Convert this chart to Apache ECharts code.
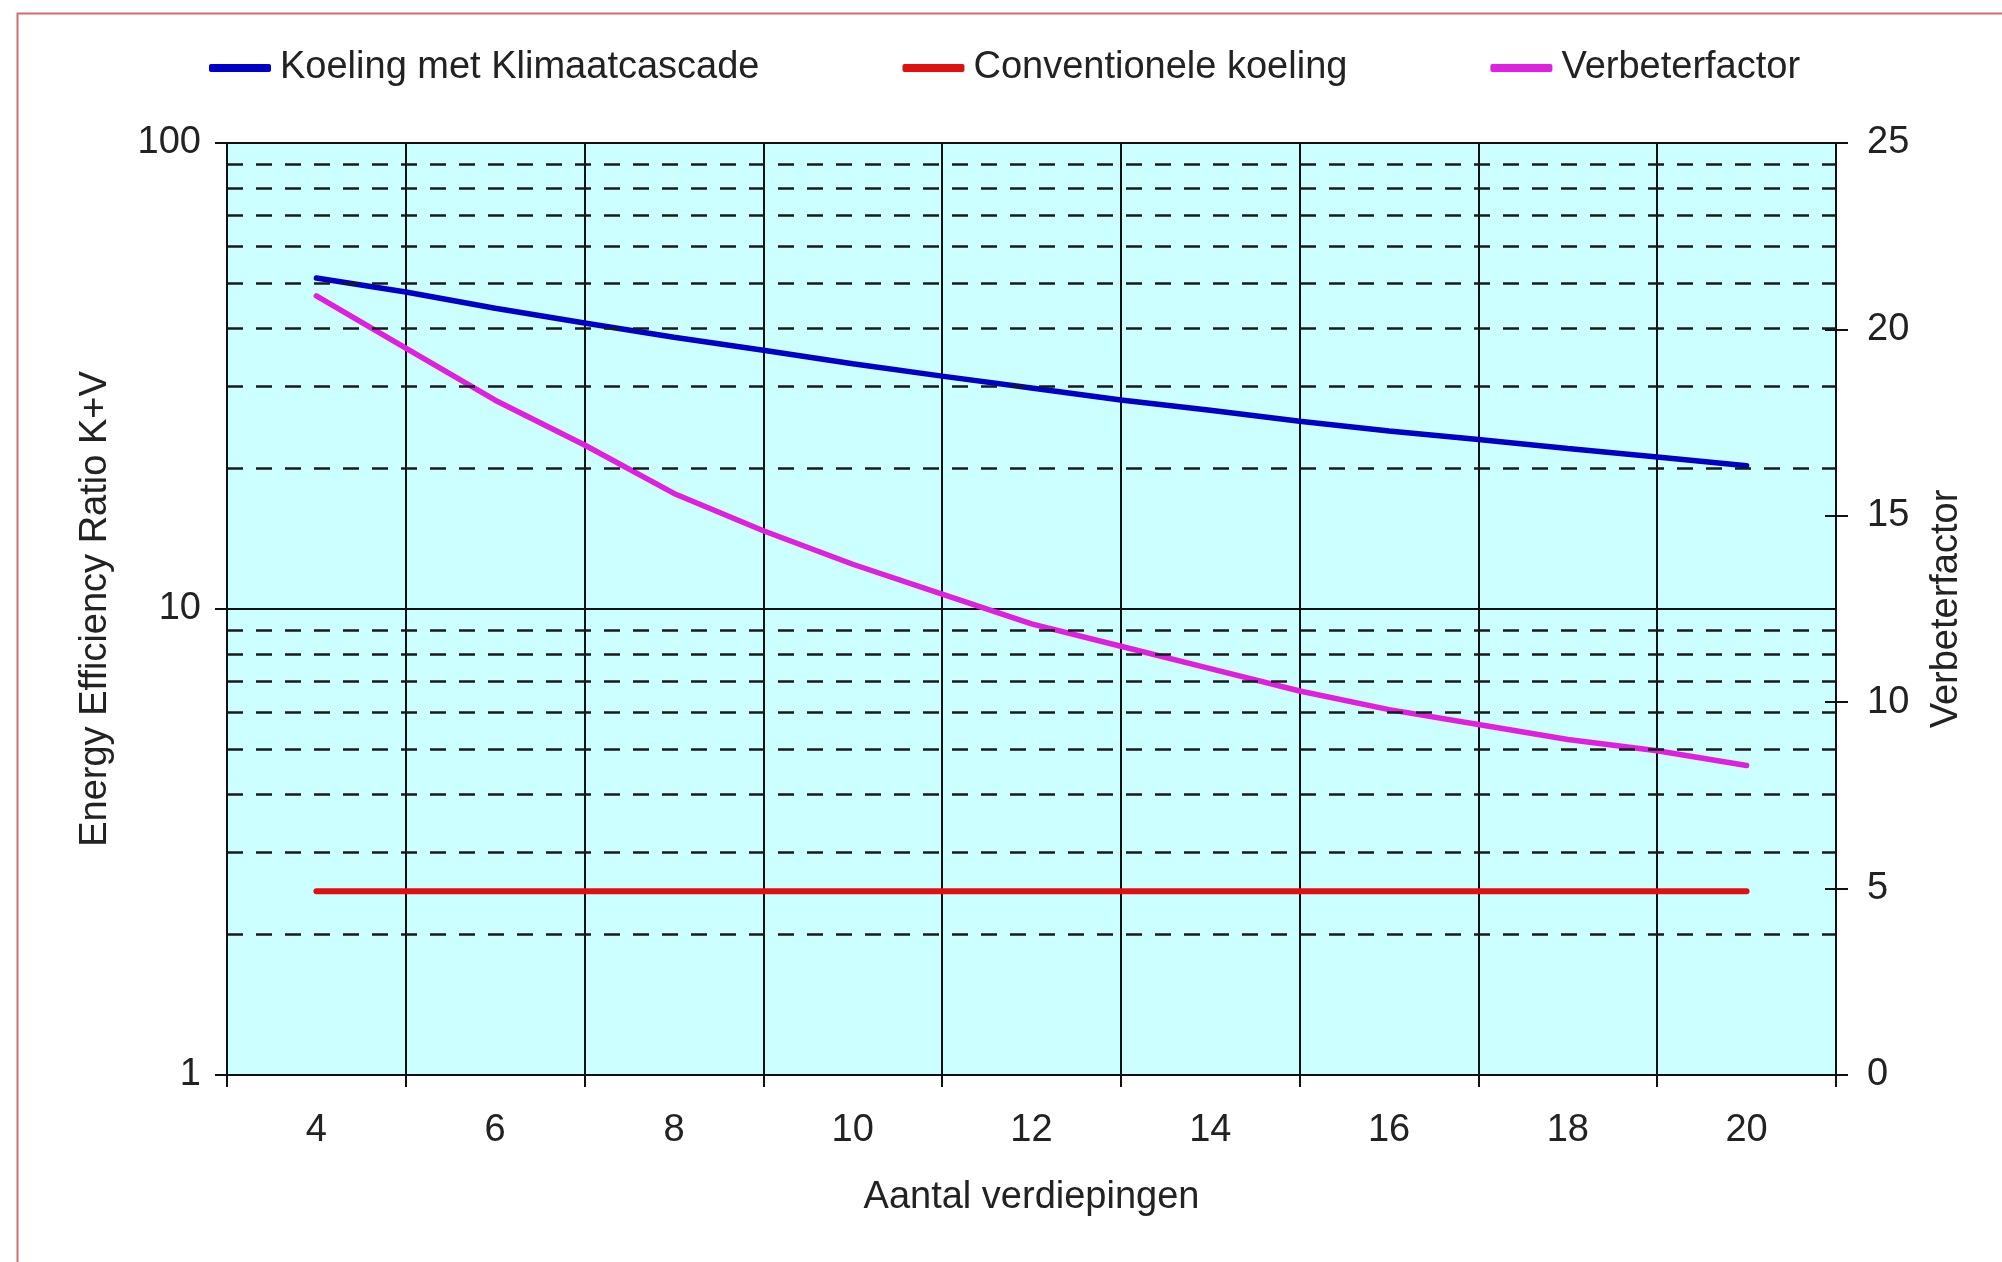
<!DOCTYPE html>
<html>
<head>
<meta charset="utf-8">
<script src="https://cdn.jsdelivr.net/npm/echarts@6/dist/echarts.min.js"></script>
<style>
html,body{margin:0;padding:0;background:#fff;}
#chart{width:2002px;height:1262px;}
</style>
</head>
<body>
<div id="chart"></div>
<script>
// Data (x = aantal verdiepingen)
const floors = [4,5,6,7,8,9,10,11,12,13,14,15,16,17,18,19,20];
const klimaatcascade = [51.3,47.9,44.2,41.1,38.3,35.9,33.6,31.6,29.8,28.1,26.7,25.3,24.1,23.1,22.1,21.2,20.3];
const conventioneel = [2.48,2.48,2.48,2.48,2.48,2.48,2.48,2.48,2.48,2.48,2.48,2.48,2.48,2.48,2.48,2.48,2.48];
const verbeterfactor = [20.9,19.5,18.1,16.9,15.6,14.6,13.7,12.9,12.1,11.5,10.9,10.3,9.8,9.4,9.0,8.7,8.3];
const xTickValues = [3,5,7,9,11,13,15,17,19,21];
const xLabelValues = [4,6,8,10,12,14,16,18,20];
const minorGridValues = [2,3,4,5,6,7,8,9,20,30,40,50,60,70,80,90];
const seriesNames = ['Koeling met Klimaatcascade','Conventionele koeling','Verbeterfactor'];
const seriesColors = ['#0000c8','#e01010','#e020e0'];

const FONT = "'Liberation Sans', Arial, sans-serif";
const TXT = '#222';

const pair = arr => floors.map((f,i)=>[f, arr[i]]);

const chart = echarts.init(document.getElementById('chart'));
chart.setOption({
  animation:false,
  textStyle:{fontFamily:FONT},
  graphic:[{
    type:'rect', left:15, top:11, silent:true,
    shape:{width:2000,height:1260},
    style:{fill:null, stroke:'#d46a6a', lineWidth:2}
  }],
  legend:{
    data:seriesNames,
    left:204, top:44,
    itemWidth:62, itemHeight:8, itemGap:143,
    icon:'roundRect',
    textStyle:{fontSize:38,color:TXT,fontFamily:FONT,padding:[0,0,0,4]}
  },
  grid:{left:227,right:166,top:143,bottom:187,show:true,backgroundColor:'#ccffff',borderWidth:1,borderColor:'#888'},
  xAxis:{
    type:'value', min:3, max:21, interval:1,
    name:'Aantal verdiepingen', nameLocation:'middle', nameGap:104,
    nameTextStyle:{fontSize:38,color:TXT,fontFamily:FONT},
    axisLine:{show:true,onZero:false,lineStyle:{color:'#111',width:2}},
    axisTick:{show:true,length:12,lineStyle:{color:'#111',width:2},customValues:xTickValues},
    axisLabel:{fontSize:38,color:TXT,margin:37,fontFamily:FONT,customValues:xLabelValues},
    splitLine:{show:true,lineStyle:{color:'#111',width:2}}
  },
  yAxis:[{
    type:'log', logBase:10, min:1, max:100, position:'left',
    name:'Energy Efficiency Ratio K+V', nameLocation:'middle', nameGap:112, nameRotate:90,
    nameTextStyle:{fontSize:38,color:TXT,fontFamily:FONT},
    axisLine:{show:true,lineStyle:{color:'#111',width:2}},
    axisTick:{show:true,length:12,lineStyle:{color:'#111',width:2}},
    axisLabel:{fontSize:38,color:TXT,margin:26,fontFamily:FONT},
    splitLine:{show:true,lineStyle:{color:'#111',width:2}},
    minorTick:{show:false}, minorSplitLine:{show:false}
  },{
    type:'value', min:0, max:25, interval:5, position:'right',
    name:'Verbeterfactor', nameLocation:'middle', nameGap:92, nameRotate:90,
    nameTextStyle:{fontSize:38,color:TXT,fontFamily:FONT},
    axisLine:{show:true,lineStyle:{color:'#111',width:2}},
    axisTick:{show:true,length:12,lineStyle:{color:'#111',width:2}},
    axisLabel:{fontSize:38,color:TXT,margin:31,fontFamily:FONT},
    splitLine:{show:false}
  },{
    type:'value', min:0, max:25, interval:5, position:'right',
    axisLine:{show:false},
    axisTick:{show:true,inside:true,length:11,lineStyle:{color:'#111',width:2}},
    axisLabel:{show:false},
    splitLine:{show:false}
  }],
  series:[{
    name:'minorgrid', type:'line', yAxisIndex:0, data:[], z:1, silent:true,
    markLine:{
      silent:true, symbol:['none','none'], label:{show:false},
      lineStyle:{color:'#1a1a1a',width:2.5,type:[16,13]},
      emphasis:{disabled:true},
      data:minorGridValues.map(v=>({yAxis:v}))
    }
  },{
    name:seriesNames[0], type:'line', yAxisIndex:0, data:pair(klimaatcascade),
    showSymbol:false, z:4, color:seriesColors[0],
    lineStyle:{color:seriesColors[0],width:5.5,cap:'round'}
  },{
    name:seriesNames[1], type:'line', yAxisIndex:0, data:pair(conventioneel),
    showSymbol:false, z:4, color:seriesColors[1],
    lineStyle:{color:seriesColors[1],width:6,cap:'round'}
  },{
    name:seriesNames[2], type:'line', yAxisIndex:1, data:pair(verbeterfactor),
    showSymbol:false, z:4, color:seriesColors[2],
    lineStyle:{color:seriesColors[2],width:5.5,cap:'round'}
  }]
});
</script>
</body>
</html>
